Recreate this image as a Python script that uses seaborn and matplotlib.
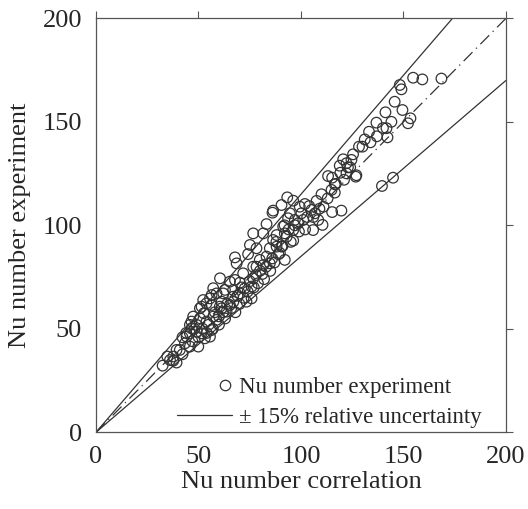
import numpy as np
import pandas as pd
import matplotlib
matplotlib.use("Agg")
import matplotlib.pyplot as plt
import seaborn as sns
from matplotlib.lines import Line2D
from matplotlib.legend_handler import HandlerLine2D

nu_corr = [154.7, 159.2, 168.5, 149.0, 148.2, 145.7, 149.5, 141.2, 144.1, 136.8,
           153.4, 152.2, 141.7, 133.2, 142.2, 131.1, 133.9, 128.3, 144.9, 139.5,
           125.4, 120.6, 124.6, 122.2, 118.9, 122.9, 127.0, 126.7, 119.2, 113.2,
           115.2, 116.5, 114.9, 116.5, 110.0, 107.6, 119.7, 115.2, 110.5, 105.9,
           101.9, 104.0, 105.1, 106.8, 100.2, 101.1, 98.6, 96.2, 93.3, 90.5,
           86.4, 86.1, 93.7, 96.2, 97.0, 91.3, 92.1, 88.1, 92.1, 96.2,
           83.2, 81.6, 76.7, 75.1, 78.3, 84.8, 88.1, 90.5, 83.2, 81.6,
           81.2, 76.7, 74.2, 67.8, 68.6, 71.8, 76.7, 75.9, 73.4, 75.9,
           67.8, 65.3, 66.9, 70.2, 66.9, 61.3, 60.5, 57.2, 58.8, 62.1,
           65.3, 63.7, 61.3, 56.4, 55.6, 53.9, 50.7, 51.5, 52.6, 56.4,
           57.2, 58.8, 53.9, 50.7, 49.1, 46.6, 45.8, 46.6, 49.1, 51.5,
           53.1, 56.4, 55.6, 45.8, 44.2, 42.2, 43.4, 45.8, 49.9, 40.9,
           42.2, 37.7, 39.3, 36.1, 37.7, 34.8, 32.5, 39.3,
           47.4, 52.3, 60.4, 62.9, 70.2, 72.6, 78.3, 79.9, 86.4, 84.8,
           89.7, 93.0, 94.6, 99.4, 108.4, 122.2,
           44.0, 47.0, 48.0, 50.0, 52.0, 54.0, 55.0, 57.0, 58.0, 60.0,
           60.0, 62.0, 63.0, 64.0, 66.0, 67.0, 68.0, 69.0, 70.0, 71.0,
           72.0, 74.0, 75.0, 77.0, 78.0, 79.0, 80.0, 82.0, 83.0, 85.0,
           86.0, 87.0, 88.0, 89.0, 91.0, 92.0, 94.0, 95.0, 97.0, 99.0,
           102.0, 103.0, 106.0, 109.0, 111.0, 113.0, 117.0, 121.0, 124.0, 130.0,
           137.0, 140.0]
nu_exp = [171.3, 170.5, 170.9, 165.7, 167.8, 159.7, 155.7, 154.6, 150.0, 149.6,
          151.7, 149.3, 146.9, 145.2, 142.5, 141.5, 140.1, 138.0, 123.0, 119.0,
          134.3, 131.9, 131.6, 130.0, 128.8, 128.0, 124.2, 123.5, 125.4, 123.8,
          123.0, 119.8, 117.1, 115.8, 115.0, 111.8, 107.1, 106.4, 100.2, 97.7,
          110.3, 109.3, 107.4, 105.8, 105.8, 102.6, 101.0, 111.9, 113.5, 109.8,
          107.1, 106.1, 103.4, 97.7, 102.6, 99.4, 96.1, 95.3, 83.3, 92.6,
          100.6, 96.1, 96.1, 90.5, 88.9, 88.9, 89.7, 89.7, 84.9, 80.8,
          76.5, 80.0, 86.1, 84.5, 81.6, 76.8, 74.4, 70.4, 63.1, 64.7,
          73.6, 72.8, 68.8, 67.1, 65.5, 63.1, 74.4, 69.6, 67.1, 67.1,
          61.5, 58.3, 59.9, 66.3, 64.7, 62.3, 59.9, 60.7, 57.5, 61.5,
          55.9, 54.3, 53.5, 55.1, 51.9, 53.5, 51.9, 50.2, 48.6, 47.8,
          45.4, 49.4, 46.2, 47.8, 46.2, 45.9, 43.0, 41.4, 41.4, 39.8,
          37.7, 36.6, 39.8, 34.9, 34.6, 36.6, 32.2, 33.7,
          55.9, 63.9, 60.7, 68.8, 72.3, 69.6, 80.0, 83.3, 92.9, 81.6,
          86.6, 94.5, 105.8, 109.0, 102.6, 125.1,
          48.0, 44.0, 50.0, 46.0, 50.0, 48.0, 52.0, 50.0, 58.0, 56.0,
          52.0, 58.0, 55.0, 62.0, 60.0, 63.0, 58.0, 66.0, 62.0, 70.0,
          65.0, 68.0, 73.0, 70.0, 76.0, 72.0, 78.0, 74.0, 80.0, 78.0,
          84.0, 82.0, 92.0, 86.0, 90.0, 100.0, 98.0, 92.0, 100.0, 97.0,
          98.0, 104.0, 104.0, 108.0, 109.0, 113.0, 120.0, 122.0, 128.0, 138.0,
          143.0, 147.0]

bound_factors = [0.85, 1.15]
axis_ticks = [0, 50, 100, 150, 200]


class RightMarkerHandler(HandlerLine2D):
    def get_xdata(self, legend, xdescent, ydescent, width, height, fontsize):
        xm = -xdescent + width - 0.3 * fontsize
        return np.array([xm - 1.0, xm + 1.0]), np.array([xm])


sns.set_style("white")
plt.rcParams['font.family'] = ['Liberation Serif', 'DejaVu Serif']

fig = plt.figure(figsize=(5.28, 5.09), dpi=100)
ax = fig.add_axes([0.1818, 0.1507, 0.7765, 0.8133])

df = pd.DataFrame({"corr": nu_corr, "exp": nu_exp})
sns.scatterplot(data=df, x="corr", y="exp", ax=ax, marker="o", s=58,
                facecolor="none", edgecolor="#333333", linewidth=0.9, legend=False)

xs = np.array([0, 200.0])
for f in bound_factors:
    ax.plot(xs, f * xs, color="#333333", lw=0.9, zorder=1)
ax.plot(xs, xs, color="#333333", lw=0.9, linestyle=(0, (10, 4, 1, 4)), zorder=1)

ax.set_xlim(0, 200)
ax.set_ylim(0, 200)
ax.set_xticks(axis_ticks)
ax.set_yticks(axis_ticks)
ax.tick_params(axis="both", which="both", direction="out", length=5, width=0.8,
               color="#555555", labelsize=19, top=True, right=True,
               labeltop=False, labelright=False, pad=5)
for sp in ax.spines.values():
    sp.set_color("#555555")
    sp.set_linewidth(0.9)
ax.set_xlabel("Nu number correlation", fontsize=19, labelpad=2)
ax.set_ylabel("Nu number experiment", fontsize=19, labelpad=8)

marker_handle = Line2D([], [], marker="o", linestyle="none", markersize=7.5,
                       markerfacecolor="none", markeredgecolor="#333333",
                       markeredgewidth=0.9)
line_handle = Line2D([], [], color="#333333", lw=0.9)
ax.legend([marker_handle, line_handle],
          ["Nu number experiment", "\u00b1 15% relative uncertainty"],
          loc="lower right", bbox_to_anchor=(0.963, -0.012), frameon=False,
          fontsize=16.5, handlelength=2.4, handletextpad=0.3, borderaxespad=0,
          labelspacing=0.38, handler_map={marker_handle: RightMarkerHandler()})

fig.savefig("out.png", dpi=100)
